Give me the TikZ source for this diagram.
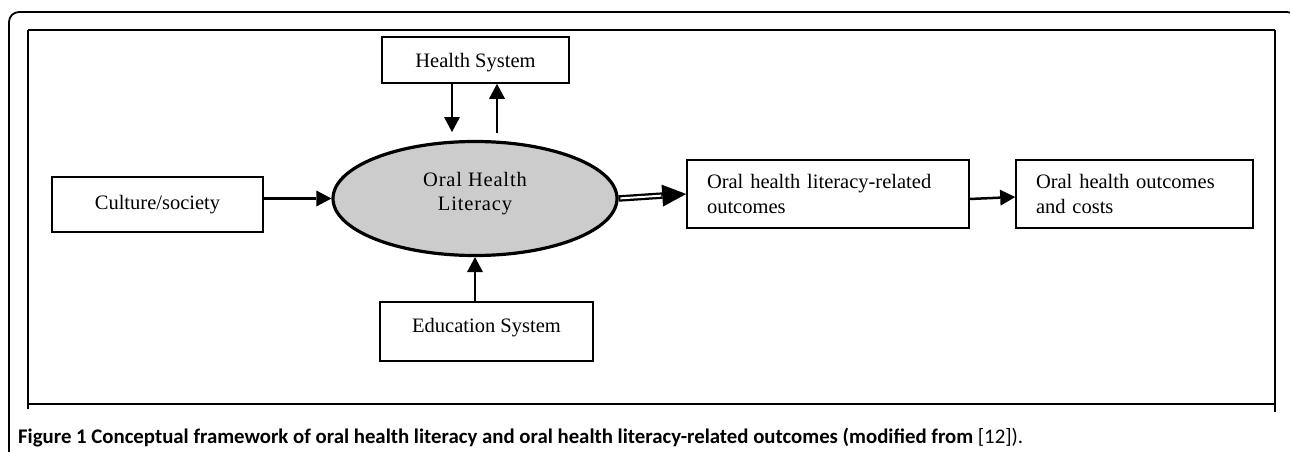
\documentclass[tikz,border=0pt]{standalone}
\usepackage{fontspec}
\setmainfont{Liberation Serif}
\newfontfamily\capfont{Carlito}
\newfontfamily\spacedfont[LetterSpace=4]{Liberation Serif}
\usetikzlibrary{arrows.meta,shapes.geometric}
\definecolor{ellfill}{gray}{0.8}
\begin{document}
\begin{tikzpicture}[x=1pt,y=-1pt,
  box/.style={draw,line width=1.6pt,inner sep=0pt,font=\fontsize{20.5}{25}\selectfont},
  arr/.style={line width=2.8pt,-{Triangle[length=15pt,width=16pt,line width=0pt]}},
  frameline/.style={line width=2.2pt},
]
\useasboundingbox (0,0) rectangle (1290,452);
\clip (0,0) rectangle (1290,452);
% outer rounded frame
\draw[line width=1.8pt, rounded corners=10pt] (9,470) -- (9,12) -- (1297,12) -- (1297,470);
% inner frame
\draw[frameline] (28,30) -- (1275,30);
\draw[line width=1.6pt] (28,30) -- (28,409);
\draw[line width=1.6pt] (1275,30) -- (1275,412);
\draw[frameline] (28,404) -- (1275,404);

% nodes
\node[box, minimum width=187pt, minimum height=46pt, text depth=0pt] (hs) at (475.5,60) {Health System};
\node[box, minimum width=211pt, minimum height=55pt] (cs) at (157.5,204.5) {Culture/society};
\node[ellipse, draw, line width=3.2pt, fill=ellfill, minimum width=284pt, minimum height=114pt,
      inner sep=0pt, align=center, text depth=14pt,
      font=\spacedfont\fontsize{20.5}{24}\selectfont] (ohl) at (475,198.5) {Oral Health\\Literacy};
\node[box, minimum width=213pt, minimum height=59pt, text depth=13pt] (es) at (486.5,331.5) {Education System};
\node[box, minimum width=282pt, minimum height=68pt, text width=242pt, align=left] (b1) at (828,194)
  {Oral health literacy-related\\outcomes};
\node[box, minimum width=237pt, minimum height=68pt, text width=197pt, align=left] (b2) at (1134.5,194)
  {Oral health outcomes\\and costs};

% connectors
\coordinate (hd) at (452,132);
\coordinate (hu) at (497,133);
\draw[arr] (hs.south -| hd) -- (hd);
\draw[arr] (hu) -- (hs.south -| hu);
\draw[arr] (cs.east |- ohl.west) -- (ohl.west);
\draw[arr] (es.north -| ohl.south) -- (ohl.south);
\draw[line width=6.5pt, -{Triangle[length=24pt,width=22pt,line width=0pt]}] (ohl.east) -- (b1.west);
\draw[white, line width=2pt, shorten >=25pt, shorten <=1.8pt] (ohl.east) -- (b1.west);
\draw[arr, line width=2.5pt] ([yshift=-5pt]b1.east) -- ([yshift=-3pt]b2.west);

% caption
\node[anchor=base west, inner sep=0pt, font=\capfont\bfseries\fontsize{20.8}{25}\selectfont] (cap) at (18,443)
  {Figure 1 Conceptual framework of oral health literacy and oral health literacy-related outcomes (modified from {\mdseries [12]).}};
\end{tikzpicture}
\end{document}
